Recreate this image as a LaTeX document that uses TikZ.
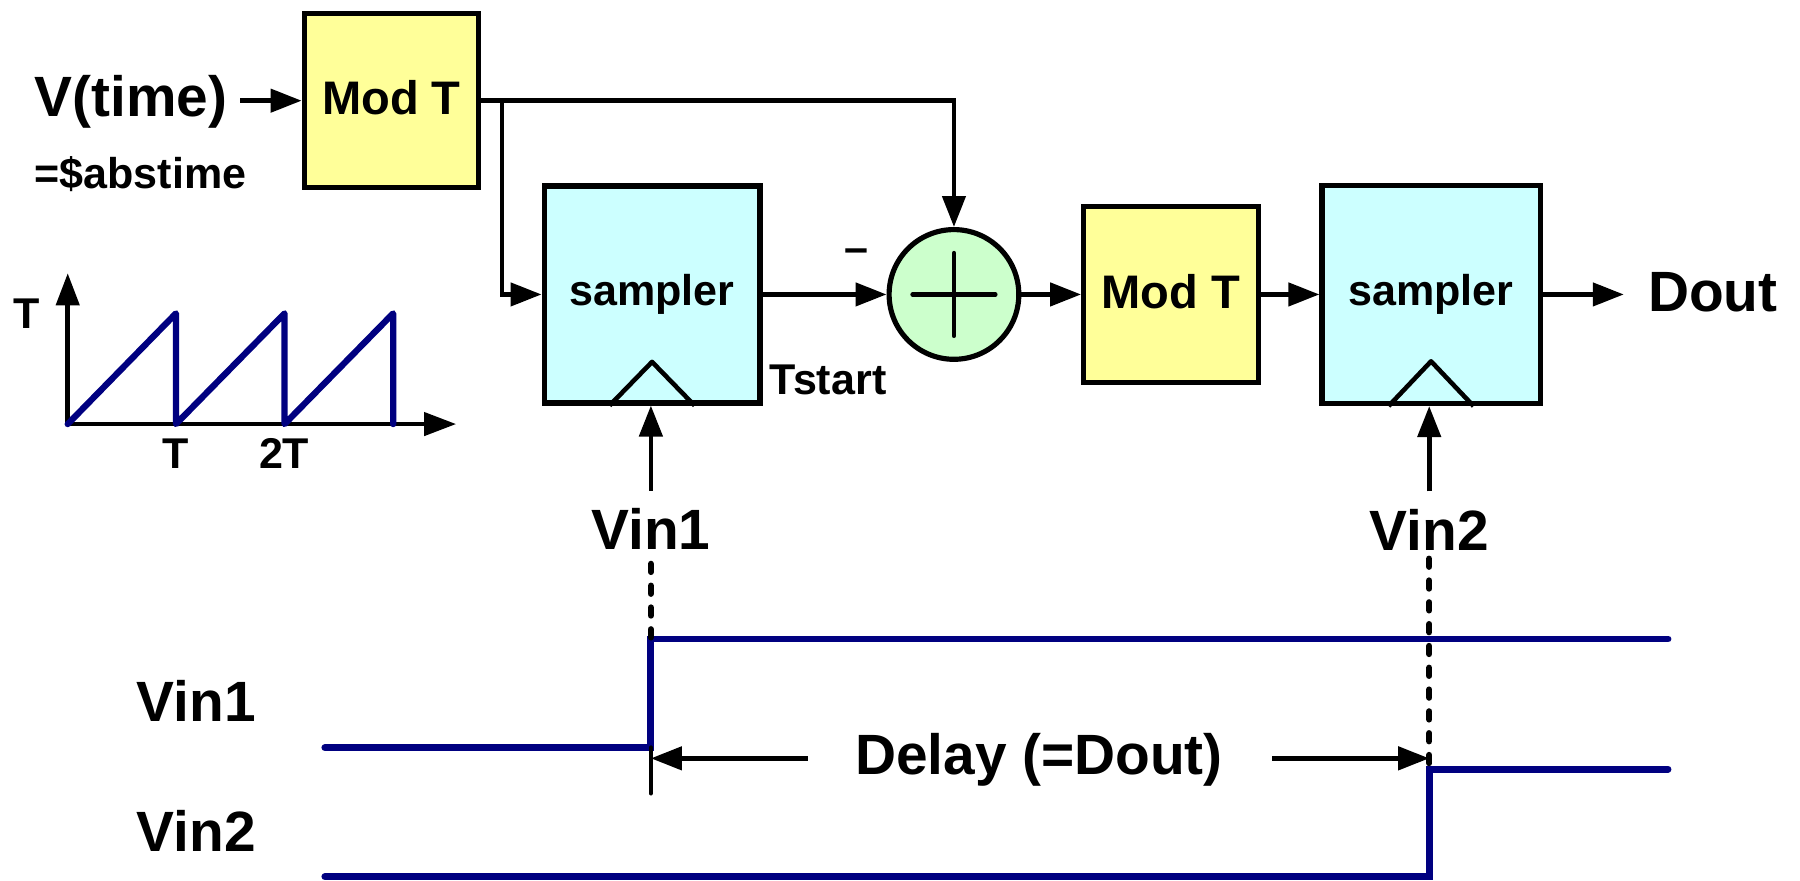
\documentclass[tikz,border=0pt]{standalone}
\usepackage{fontspec}
\setmainfont{Liberation Sans}
\usetikzlibrary{arrows.meta}
\definecolor{modfill}{RGB}{255,255,153}
\definecolor{sampfill}{RGB}{204,255,255}
\definecolor{sumfill}{RGB}{204,255,204}
\definecolor{wavecol}{RGB}{0,0,128}
\newcommand\fbig{\fontsize{49.5}{58}\selectfont\bfseries}
\newcommand\fmid{\fontsize{37.5}{45}\selectfont\bfseries}
\newcommand\fmod{\fontsize{41}{49}\selectfont\bfseries}
\begin{document}
\begin{tikzpicture}[x=1pt,y=-1pt,
  modbox/.style={draw, line width=4.5pt, fill=modfill, inner sep=0pt, font=\fmod, text depth=5pt},
  sampbox/.style={draw, line width=4.5pt, fill=sampfill, inner sep=0pt, font=\fmid},
  sumnode/.style={draw, circle, line width=4.5pt, fill=sumfill, inner sep=0pt, minimum size=113pt},
  arr/.style={line width=4pt, -{Triangle[length=27pt,width=20pt]}},
  lbig/.style={inner sep=0pt, font=\fbig},
  lmid/.style={inner sep=0pt, font=\fmid},
  wave/.style={draw=wavecol, line width=6pt, line cap=round},
  dashln/.style={line width=5.5pt, line cap=round, dash pattern=on 7pt off 12pt},
  thin/.style={line width=4pt, line cap=round}
]
\useasboundingbox (0,0) rectangle (1568,767);

% blocks
\node[modbox, minimum width=152pt, minimum height=151.5pt] (modt1) at (341,87.7) {Mod T};
\node[sampbox, minimum width=188pt, minimum height=189pt] (samp1) at (568,256.5) {sampler};
\node[sumnode] (sum) at (831,256.5) {};
\node[modbox, minimum width=152pt, minimum height=153pt] (modt2) at (1020,256.5) {Mod T};
\node[sampbox, minimum width=190pt, minimum height=190pt] (samp2) at (1246.6,256.5) {sampler};

% plus sign and clock triangles
\draw[thin] ([xshift=-36pt]sum.center) -- ([xshift=36pt]sum.center);
\draw[thin] ([yshift=-36pt]sum.center) -- ([yshift=36pt]sum.center);
\draw[line width=4pt, line join=round] ([xshift=-37pt]samp1.south) -- ([yshift=38pt]samp1.south) -- ([xshift=37pt]samp1.south);
\draw[line width=4pt, line join=round] ([xshift=-37pt]samp2.south) -- ([yshift=39pt]samp2.south) -- ([xshift=37pt]samp2.south);

% texts
\node[lbig, anchor=base west] (vtime) at (30,101.6) {V(time)};
\node[lmid, anchor=base west] (abst) at (30,164) {=\$abstime};
\node[lmid, anchor=base west] (tstart) at (670.5,343.7) {Tstart};
\node[lmid, anchor=base] (minus) at (746,228.5) {–};
\node[lbig, anchor=base west] (dout) at (1435.5,271.7) {Dout};
\node[lbig, anchor=base] (vin1t) at (567,479) {Vin1};
\node[lbig, anchor=base] (vin2t) at (1245,479.5) {Vin2};
\node[lbig, anchor=base west] (vin1l) at (118.8,628.7) {Vin1};
\node[lbig, anchor=base west] (vin2l) at (118.8,741.9) {Vin2};
\node[lbig, anchor=base] (delay) at (905,675.1) {Delay (=Dout)};

% connectors
\draw[arr, shorten <=11pt] (vtime.east |- modt1.west) -- (modt1.west);
\draw[arr] (modt1.east) -| (sum.north);
\coordinate (br) at ([xshift=18pt]modt1.east);
\draw[arr] (br) |- (samp1.west);
\draw[arr] (samp1.east) -- (sum.west);
\draw[arr] (sum.east) -- (modt2.west);
\draw[arr] (modt2.east) -- (samp2.west);
\draw[arr, shorten >=21pt] (samp2.east) -- (samp2.east -| dout.west);
\draw[arr, shorten <=15.5pt] (vin1t.north) -- (vin1t.north |- samp1.south);
\draw[arr, shorten <=15.5pt] (vin2t.north) -- (vin2t.north |- samp2.south);

% sawtooth plot
\coordinate (O) at (59,369.4);
\coordinate (ytip) at (59,238);
\coordinate (xtip) at (397.4,369.4);
\draw[line width=4pt, -{Triangle[length=28pt,width=20pt]}] (O) -- (ytip);
\draw[line width=4pt, -{Triangle[length=28pt,width=20pt]}] (O) -- (xtip);
\draw[draw=wavecol, line width=5.5pt, line join=round, line cap=round]
  (O) -- (153.3,273) -- (153.3,369.4) -- (247.9,273) -- (247.9,369.4) -- (342.5,273) -- (342.5,369.4);
\node[lmid, anchor=base] (tlab) at (23.3,286) {T};
\node[lmid, anchor=base] (t1) at (153.3,408) {T};
\node[lmid, anchor=base] (t2) at (247.5,408) {2T};

% timing waveforms
\coordinate (v1low) at (567,651.3);
\coordinate (v1rise) at (567,556.6);
\coordinate (v2low) at (1245,763.7);
\coordinate (v2rise) at (1245,670);
\draw[wave] (283,651.3) -- (v1low) -- (v1rise) -- (1453,556.6);
\draw[wave] (283,763.7) -- (v2low) -- (v2rise) -- (1453,670);
\draw[dashln, shorten <=12pt] (vin1t.south) -- (v1rise);
\draw[dashln, shorten <=7pt] (vin2t.south) -- (v2rise);
\coordinate (tickend) at (567,691);
\draw[thin] (v1low) -- (tickend);

% delay arrows
\coordinate (dl) at (567,660.6);
\coordinate (dr) at (1245,660.6);
\draw[arr, shorten <=41pt] (delay.west |- dl) -- (dl);
\draw[arr, shorten <=43pt] (delay.east |- dr) -- (dr);
\end{tikzpicture}
\end{document}
